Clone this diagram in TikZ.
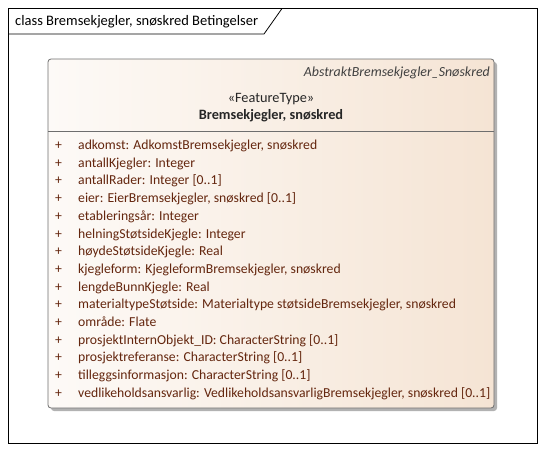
\documentclass[tikz,border=0pt]{standalone}
\usepackage{fontspec}
\setmainfont{Carlito}
\usetikzlibrary{shadows}
\definecolor{attrtext}{RGB}{100,38,14}
\definecolor{boxright}{RGB}{245,228,212}
\definecolor{boxleft}{RGB}{253,250,247}
\definecolor{boxline}{RGB}{110,110,110}
\tikzset{
  attr/.style={anchor=base west, inner sep=0pt, font=\fontsize{13.7}{15}\selectfont, text=attrtext},
  plus/.style={anchor=base west, inner sep=0pt, font=\fontsize{13.7}{15}\selectfont, text=attrtext},
}
\begin{document}
\begin{tikzpicture}[x=1pt,y=-1pt]
\useasboundingbox (0,0) rectangle (545,452);
% outer frame
\draw[black, line width=0.8pt] (8.5,8.5) rectangle (537.5,443.5);
\draw[black, line width=0.8pt] (8.5,34) -- (264,34) -- (282,8.5);
\node[anchor=base west, inner sep=0pt, font=\fontsize{14.5}{16}\selectfont] (title) at (15,26) {class Bremsekjegler, snøskred Betingelser};
% shadow
\fill[black!30, rounded corners=3pt] (51,62) rectangle (497,411);
% class box
\shade[left color=boxleft, right color=boxright, rounded corners=3pt] (48,59) rectangle (494,408);
\draw[boxline, line width=0.8pt, rounded corners=3pt] (48,59) rectangle (494,408);
\draw[boxline, line width=0.8pt] (48,131) -- (494,131);
\node[anchor=base east, inner sep=0pt, font=\fontsize{13.9}{15}\selectfont\itshape, text=black!75] (abs) at (490,76) {AbstraktBremsekjegler\_Snøskred};
\node[anchor=base, inner sep=0pt, font=\fontsize{14.3}{15}\selectfont, text=black!85] (st) at (271,102) {«FeatureType»};
\node[anchor=base, inner sep=0pt, font=\fontsize{14.3}{15}\selectfont\bfseries, text=black!85] (nm) at (271,119) {Bremsekjegler, snøskred};
\foreach \t [count=\i from 0] in {
 {adkomst: AdkomstBremsekjegler, snøskred},
 {antallKjegler: Integer},
 {antallRader: Integer [0..1]},
 {eier: EierBremsekjegler, snøskred [0..1]},
 {etableringsår: Integer},
 {helningStøtsideKjegle: Integer},
 {høydeStøtsideKjegle: Real},
 {kjegleform: KjegleformBremsekjegler, snøskred},
 {lengdeBunnKjegle: Real},
 {materialtypeStøtside: Materialtype støtsideBremsekjegler, snøskred},
 {område: Flate},
 {prosjektInternObjekt\_ID: CharacterString [0..1]},
 {prosjektreferanse: CharacterString [0..1]},
 {tilleggsinformasjon: CharacterString [0..1]},
 {vedlikeholdsansvarlig: VedlikeholdsansvarligBremsekjegler, snøskred [0..1]}}
{
  \node[plus] (p\i) at (55,149.5+\i*17.7) {+};
  \node[attr] (a\i) at (78,149.5+\i*17.7) {\t};
}
\end{tikzpicture}
\end{document}
